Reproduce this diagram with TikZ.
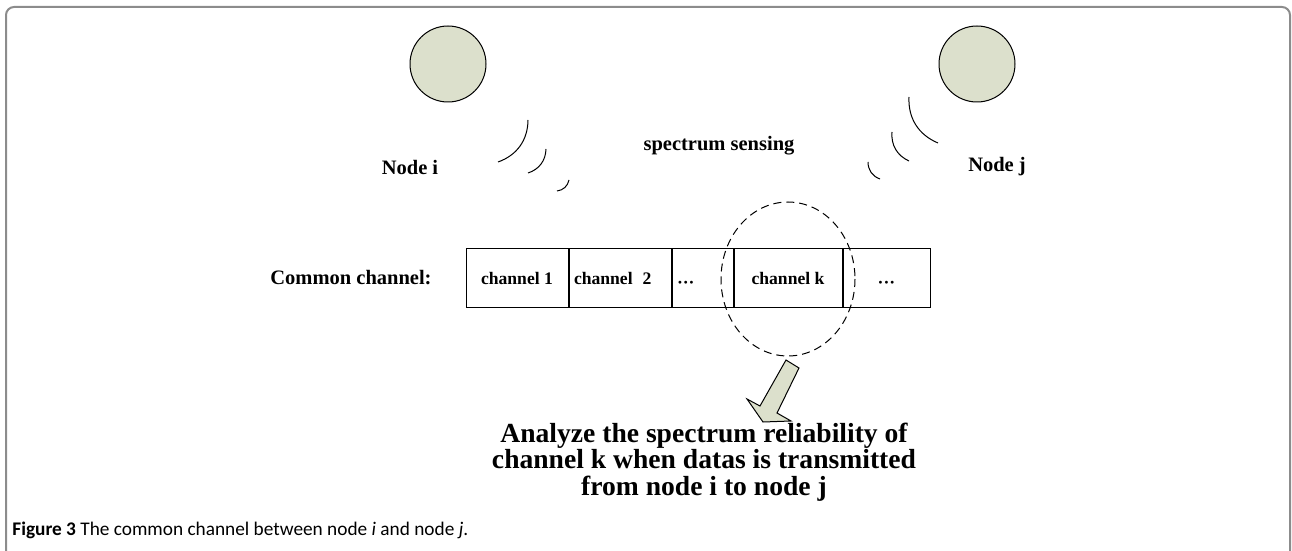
\documentclass[tikz,border=0pt]{standalone}
\usepackage{fontspec}
\setmainfont{Liberation Serif}
\newfontfamily\capfont{Carlito}
\usetikzlibrary{positioning}
\definecolor{nodefill}{RGB}{220,224,204}
\definecolor{framegray}{RGB}{140,140,140}

\begin{document}
\begin{tikzpicture}[x=0.5pt,y=-0.5pt,node distance=0pt,
                    lbl/.style={font=\fontsize{10.25}{13}\selectfont\bfseries},
                    cell/.style={draw,line width=0.5pt,minimum height=29.5pt,inner sep=0pt,
                                 font=\fontsize{8.8}{11}\selectfont\bfseries},
                    wave/.style={line width=0.5pt},
                    user/.style={circle,draw,fill=nodefill,line width=0.5pt,
                                 minimum size=38pt,inner sep=0pt}]
                                \useasboundingbox (0,0) rectangle (1292,551);
                                % frame
                                \draw[framegray,line width=1pt,rounded corners=4pt]
                                (6,553) -- (6,7) -- (1290,7) -- (1290,553);
                                % the two nodes
                                \node[user] (N_i) at (448,64) {};
                                \node[user] (N_j) at (977,64) {};
                                \node[lbl] (L_i) at (410,167) {Node i};
                                \node[lbl] (L_j) at (997,167) {Node j};
                                \node[lbl] (sense) at (719,146) {spectrum sensing};
                                % waves
                                \draw[wave] (498,162) to[bend right=35] (528,120);
                                \draw[wave] (528,173) to[bend right=35] (546,149);
                                \draw[wave] (557,191) to[bend right=35] (569,180);
                                \draw[wave] (909,97) to[bend right=35] (938,143);
                                \draw[wave] (892,132) to[bend right=35] (909,161);
                                \draw[wave] (868,162) to[bend right=35] (880,179);
                                % channels
                                \node[lbl] (common) at (351,278) {Common channel:};
                                \node[cell,minimum width=51pt] (C_1) at (517,278) {channel 1};
                                \node[cell,right=of C_1,text width=46pt,inner xsep=2.5pt,align=left] (C_2) {channel\hspace{5pt}2};
                                \node[cell,right=of C_2,text width=25.5pt,inner xsep=2.5pt,align=left] (C_3) {\vphantom{channel k}\smash{\raisebox{-2pt}{···}}};
                                \node[cell,right=of C_3,minimum width=54pt] (C_4) {channel k};
                                \node[cell,right=of C_4,minimum width=43.5pt] (C_5) {\vphantom{channel k}\smash{\raisebox{-2pt}{···}}\hspace{3pt}};
                                \draw[dashed,dash pattern=on 4pt off 2.5pt,line width=0.5pt]
                                (788,279) ellipse [x radius=67,y radius=77];
                                % block arrow
                                \draw[fill=nodefill,line width=0.5pt]
                                (786,360) -- (799,368) -- (777,413) -- (791,421) -- (763,422)
                                -- (747,399) -- (760,406) -- cycle;
                                \node[align=center,font=\fontsize{13.8}{13.3}\selectfont\bfseries] (note) at (704,462)
                                {Analyze the spectrum reliability of\\channel k when datas is transmitted\\from node i to node j};
                                % caption
                                \node[anchor=west,inner sep=0pt,font=\capfont\fontsize{9.65}{11}\selectfont] (cap) at (12,530)
                                {\textbf{Figure 3} The common channel between node \textit{i} and node \textit{j}.};
                            \end{tikzpicture}
\end{document}
